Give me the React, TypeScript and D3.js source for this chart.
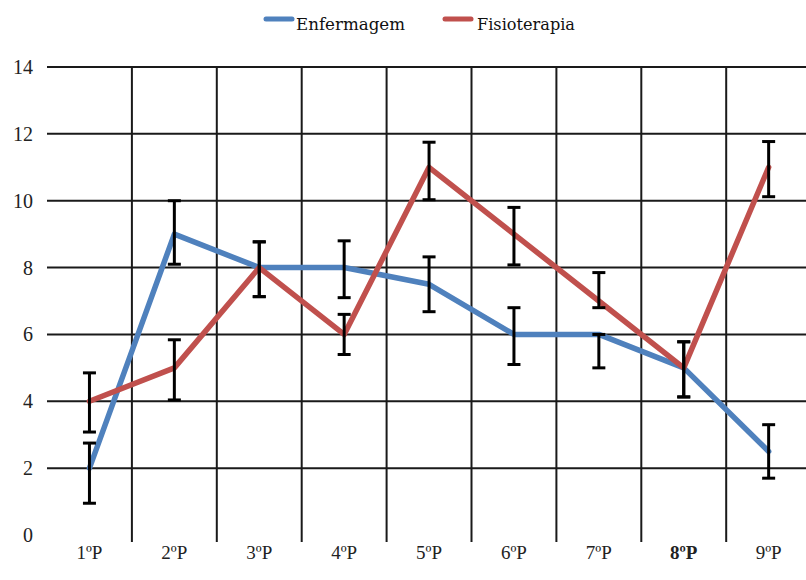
import React from "react";
import * as d3 from "d3";

const categories = ["1ºP", "2ºP", "3ºP", "4ºP", "5ºP", "6ºP", "7ºP", "8ºP", "9ºP"];
const boldCategories = ["8ºP"];
const yTicks = [0, 2, 4, 6, 8, 10, 12, 14];

const enfValues = [2, 9, 8, 8, 7.5, 6, 6, 5, 2.5];
const enfErrPlus = [0.75, 1.0, 0.77, 0.8, 0.82, 0.8, 0.0, 0.78, 0.8];
const enfErrMinus = [1.05, 0.9, 0.87, 0.9, 0.82, 0.9, 1.0, 0.87, 0.8];

const fisValues = [4, 5, 8, 6, 11, 9, 7, 5, 11];
const fisErrPlus = [0.85, 0.84, 0.77, 0.6, 0.75, 0.8, 0.85, 0.78, 0.77];
const fisErrMinus = [0.92, 0.96, 0.87, 0.6, 0.97, 0.92, 0.2, 0.87, 0.88];

const seriesNames = ["Enfermagem", "Fisioterapia"];
const seriesColors = ["#4F81BD", "#C0504D"];

const W = 806;
const H = 580;

export default function App() {
  const x = d3.scaleBand<string>().domain(categories).range([47, 47 + 9 * 84.9]).padding(0);
  const y = d3.scaleLinear().domain([0, 14]).range([535, 67]);
  const cx = (c: string) => (x(c) as number) + x.bandwidth() / 2;

  const series = [
    { name: seriesNames[0], color: seriesColors[0], values: enfValues, plus: enfErrPlus, minus: enfErrMinus },
    { name: seriesNames[1], color: seriesColors[1], values: fisValues, plus: fisErrPlus, minus: fisErrMinus },
  ];

  const line = d3
    .line<number>()
    .x((_, i) => cx(categories[i]))
    .y((v) => y(v));

  const serif = { fontFamily: '"Liberation Serif", "Times New Roman", serif' };
  const slab = { fontFamily: '"DejaVu Serif", serif' };
  const gridColor = "#1a1a1a";

  return (
    <svg width={W} height={H} style={{ position: "absolute", left: 0, top: 0, background: "#fff" }}>
      <rect x={0} y={0} width={W} height={H} fill="#fff" />
      {yTicks
        .filter((t) => t > 0)
        .map((t) => (
          <line key={"h" + t} x1={47} x2={W} y1={y(t)} y2={y(t)} stroke={gridColor} strokeWidth={2} />
        ))}
      {categories.slice(1).map((c) => (
        <line key={"v" + c} x1={x(c) as number} x2={x(c) as number} y1={y(14)} y2={y(0) + 7} stroke={gridColor} strokeWidth={2} />
      ))}
      {yTicks.map((t) => (
        <text key={"yl" + t} x={33} y={y(t)} dy="0.35em" textAnchor="end" style={serif} fontSize={20} fill="#222">
          {t}
        </text>
      ))}
      {categories.map((c) => (
        <text
          key={"xl" + c}
          x={cx(c)}
          y={559}
          textAnchor="middle"
          style={serif}
          fontSize={19}
          fontWeight={boldCategories.includes(c) ? "bold" : "normal"}
          fill="#222"
        >
          {c}
        </text>
      ))}
      {series.map((s) => (
        <path key={s.name} d={line(s.values) || ""} fill="none" stroke={s.color} strokeWidth={5.5} strokeLinejoin="round" strokeLinecap="round" />
      ))}
      {series.map((s) =>
        s.values.map((v, i) => {
          const px = cx(categories[i]);
          const top = y(v + s.plus[i]);
          const bot = y(v - s.minus[i]);
          return (
            <g key={s.name + "e" + i} stroke="#000">
              <line x1={px} x2={px} y1={top} y2={bot} strokeWidth={3} />
              <line x1={px - 6.5} x2={px + 6.5} y1={top} y2={top} strokeWidth={3} />
              <line x1={px - 6.5} x2={px + 6.5} y1={bot} y2={bot} strokeWidth={3} />
            </g>
          );
        })
      )}
      <g>
        <line x1={266} x2={292} y1={19} y2={19} stroke={seriesColors[0]} strokeWidth={5} strokeLinecap="round" />
        <text x={296} y={30} style={slab} fontSize={17} fill="#111" textLength={109} lengthAdjust="spacingAndGlyphs">
          {seriesNames[0]}
        </text>
        <line x1={445} x2={471} y1={19} y2={19} stroke={seriesColors[1]} strokeWidth={5} strokeLinecap="round" />
        <text x={477} y={30} style={slab} fontSize={17} fill="#111" textLength={98} lengthAdjust="spacingAndGlyphs">
          {seriesNames[1]}
        </text>
      </g>
    </svg>
  );
}
